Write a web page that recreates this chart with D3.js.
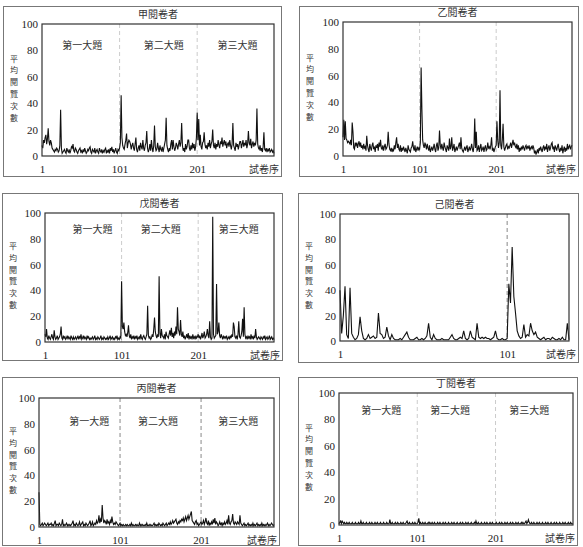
<!DOCTYPE html>
<html>
<head>
<meta charset="utf-8">
<script src="https://cdn.jsdelivr.net/npm/d3@7"></script>
<style>
body { margin: 0; background: #fff; }
svg { display: block; }
.tk { font-family: "Liberation Serif", "DejaVu Serif", serif; font-size: 11px; fill: #222; }
.zh { font-family: "Noto Sans CJK TC", "Noto Sans CJK SC", sans-serif; font-size: 10px; fill: #333; }
.yl { font-family: "Noto Sans CJK TC", "Noto Sans CJK SC", sans-serif; font-size: 8px; fill: #333; }
</style>
</head>
<body>
<svg id="chart" width="583" height="547"></svg>
<script>
var titles = ['甲閱卷者', '乙閱卷者', '戊閱卷者', '己閱卷者', '丙閱卷者', '丁閱卷者'];
var sections = ['第一大題', '第二大題', '第三大題'];
var yTicks = [0, 20, 40, 60, 80, 100];
var xTicks = [1, 101, 201];
var yLabel = '平均閱覽次數';
var xLabel = '試卷序';

var dataA = [
    8,6,12,10,14,16,9,13,21,11,8,12,10,6,5,4,3,5,4,6,
    5,3,4,8,35,6,2,3,4,5,3,2,6,4,3,5,2,4,7,6,
    9,4,3,6,5,3,2,4,5,6,3,4,2,5,3,6,4,2,3,5,
    4,6,7,3,2,5,4,3,6,2,4,5,3,2,6,4,3,5,2,4,
    3,5,6,2,4,3,5,2,6,4,7,3,5,2,4,6,3,2,5,4,
    6,10,46,14,8,6,5,9,12,17,6,10,12,11,9,5,8,10,6,4,
    9,14,5,3,6,8,4,10,7,5,12,6,4,8,10,19,6,3,5,9,
    4,12,6,3,8,23,7,4,5,10,6,3,8,5,4,7,3,6,9,12,
    29,8,5,3,6,4,9,12,5,12,7,4,6,10,8,5,9,12,7,10,
    25,8,4,6,3,9,5,7,12,12,6,4,8,5,10,6,9,4,7,14,
    33,12,28,8,16,7,5,10,11,18,9,6,8,5,10,7,12,6,9,11,
    20,8,6,10,5,9,7,12,8,6,11,9,14,7,10,12,8,11,6,9,
    10,7,12,8,5,9,25,8,6,4,10,7,9,5,8,11,11,6,9,12,
    7,10,8,12,6,9,19,10,8,13,6,9,11,7,10,8,12,36,9,6,
    5,8,4,6,3,7,18,5,4,6,3,5,4,6,3,4,5,3,4,2
];
var dataB = [
    14,27,12,26,13,12,10,11,10,9,12,8,25,18,6,5,10,8,10,6,
    9,11,7,10,6,8,5,9,6,7,4,15,8,5,3,9,6,4,8,10,
    5,7,3,8,6,9,4,10,7,12,6,5,8,4,7,9,5,6,8,18,
    9,5,4,6,3,5,4,8,5,10,14,6,9,5,4,8,3,6,4,7,
    5,3,6,4,2,8,5,4,3,6,7,11,6,4,8,3,5,7,4,6,
    5,10,66,35,12,8,6,10,8,5,9,6,4,8,3,5,7,4,6,9,
    5,3,8,10,4,6,19,8,5,9,6,4,10,7,5,3,8,6,4,13,
    5,7,14,4,6,9,3,5,7,4,6,8,10,5,14,6,4,3,5,7,
    4,6,8,3,5,7,4,6,9,5,3,8,28,6,18,4,5,8,3,6,
    9,4,5,7,3,6,8,4,5,10,6,7,5,8,14,4,6,3,5,7,
    8,26,12,6,10,49,8,5,12,24,7,4,6,8,9,5,7,6,8,10,
    6,9,12,8,10,7,6,9,5,8,3,6,4,7,5,8,6,4,7,8,
    5,7,6,8,4,6,7,5,8,6,2,4,1,3,5,2,6,4,7,5,
    3,6,8,4,7,5,9,3,6,8,4,6,9,10,5,7,3,8,6,4,
    7,9,5,3,6,4,8,2,5,7,3,6,4,9,5,7,8,5,7,8
];
var dataE = [
    6,4,10,3,2,5,3,2,4,6,3,2,9,4,2,3,5,2,3,4,
    6,12,3,2,5,3,4,2,3,5,2,4,3,2,5,3,2,4,2,3,
    4,2,3,5,2,4,3,6,2,3,5,2,4,3,2,5,3,4,2,3,
    2,3,4,2,3,5,2,3,2,4,3,2,3,5,2,3,2,4,3,2,
    3,2,4,2,3,5,2,3,4,2,3,2,4,3,5,2,3,2,4,3,
    47,12,10,15,8,5,6,4,7,13,5,3,6,2,4,3,5,2,4,3,
    5,2,3,4,2,6,3,2,4,5,3,2,4,6,28,5,3,4,2,3,
    6,4,10,19,8,5,3,6,4,51,7,3,10,5,4,3,6,2,8,5,
    4,3,6,9,5,11,4,7,3,8,5,12,6,27,10,8,5,17,6,4,
    8,3,5,2,4,6,3,7,2,5,3,4,2,6,3,4,2,5,3,4,
    6,3,5,2,4,7,3,5,8,3,4,6,10,5,3,16,4,2,3,97,
    6,3,4,5,45,6,8,15,5,3,6,4,2,5,3,4,3,5,2,3,
    4,2,5,3,6,4,15,12,4,3,5,2,6,16,4,3,5,8,18,4,
    27,6,3,4,2,5,3,4,2,6,3,4,2,5,3,10,4,2,3,4,
    3,2,4,3,2,4,3,5,2,3,4,2,3,5,2,3,4,2,3,2
];
var dataF = [
    40,6,20,43,5,2,42,6,3,1,2,5,19,8,2,1,2,5,2,3,
    4,2,3,22,6,5,2,3,11,4,1,5,2,1,1,1,2,1,3,5,
    7,3,1,1,1,2,3,1,1,2,1,2,4,14,3,1,5,2,1,1,
    1,2,1,1,1,1,3,5,2,1,1,2,3,2,8,2,1,2,8,3,
    2,1,14,3,2,3,2,3,2,2,1,2,3,8,2,1,1,2,1,1,
    2,45,30,74,35,22,8,4,2,3,13,3,5,4,14,8,5,7,3,2,
    1,2,3,1,2,2,1,3,2,1,1,2,1,3,1,1,14,1
];
var dataC = [
    27,2,1,2,3,1,2,3,2,1,2,3,1,2,2,3,1,2,1,3,
    5,1,2,2,1,3,2,1,2,6,1,2,1,2,3,1,2,1,2,1,
    2,3,5,1,2,1,3,2,1,2,4,1,2,3,4,1,2,1,3,2,
    1,2,3,5,1,2,4,1,2,3,2,5,3,4,9,3,6,4,17,7,
    3,5,4,2,6,3,4,2,5,3,8,4,2,3,2,4,3,2,1,2,
    3,1,2,1,2,1,1,2,1,2,1,1,2,1,3,1,2,1,1,2,
    1,2,1,1,3,1,2,1,2,1,1,2,1,3,1,1,2,1,2,1,
    1,2,3,1,2,1,2,1,3,2,1,2,1,3,2,1,2,3,1,2,
    3,2,4,2,3,5,3,4,5,6,3,2,4,3,5,4,6,5,7,4,
    6,8,5,7,9,6,8,10,12,5,4,3,2,4,5,2,3,1,2,3,
    4,2,3,5,2,4,7,3,2,5,1,3,2,4,2,6,3,7,2,4,
    3,1,2,4,2,3,1,3,2,4,2,3,5,2,9,3,2,4,5,10,
    3,2,4,3,2,4,3,2,9,3,2,1,2,3,1,2,1,2,3,1,
    2,1,2,1,3,1,2,1,2,3,1,2,1,2,1,3,1,2,1,2,
    1,2,3,1,2,1,2,3,2,1,2
];
var dataD = [
    1,2,3,1,3,2,1,2,1,1,2,1,1,2,1,1,1,2,1,1,
    1,2,1,1,1,2,1,1,3,1,1,2,1,1,1,2,1,1,1,2,
    1,1,2,1,1,1,2,1,1,2,1,1,1,2,1,1,1,2,1,1,
    1,2,1,1,1,4,1,1,2,1,1,1,2,1,1,2,1,1,1,2,
    1,1,2,1,1,1,2,3,1,1,2,1,1,1,2,1,1,2,1,1,
    1,2,5,1,2,1,1,2,1,1,2,1,1,1,2,1,2,1,1,2,
    1,1,2,1,1,1,2,1,1,2,1,1,1,2,1,1,2,1,1,1,
    2,1,1,1,2,1,1,2,1,1,1,2,1,1,1,2,1,1,2,1,
    1,1,2,1,1,2,1,1,1,2,1,1,1,2,1,3,1,1,2,1,
    1,1,2,1,1,1,2,1,1,2,1,1,1,2,1,1,2,1,1,1,
    1,2,1,1,1,2,1,1,2,1,1,1,2,1,1,2,1,1,1,2,
    1,1,2,1,1,1,2,1,1,2,1,1,1,2,1,2,1,1,2,3,
    1,2,4,2,1,1,2,1,1,2,1,1,1,2,1,1,2,1,1,1,
    2,1,1,1,2,1,1,2,1,1,1,2,1,1,1,2,1,1,2,1,
    1,1,2,1,1,1,2,1,1,2,1,1,1,2,1,1,2,1,1,1
];
var series = [dataA, dataB, dataE, dataF, dataC, dataD];

// layout of each panel: outer box, plot area, where section labels sit (in x units)
var panels = [
    {box: [3, 6, 281, 176], plot: [42, 24, 274, 156], secX: [53, 158, 253], secY: 45, splits: [101, 201], dash: '#ccc'},
    {box: [299, 6, 578, 176], plot: [343, 22, 572, 156], secX: null, secY: 0, splits: [101, 201], dash: '#ccc'},
    {box: [2, 193, 282, 360], plot: [45, 213, 274, 342], secX: [63, 152, 254], secY: 229, splits: [101, 201], dash: '#ccc'},
    {box: [298, 193, 578, 362], plot: [340, 214, 569, 341], secX: null, secY: 0, splits: [101], dash: '#888'},
    {box: [2, 377, 279, 545], plot: [39, 398, 274, 527], secX: [63, 148, 247], secY: 421, splits: [101, 201], dash: '#888'},
    {box: [298, 377, 577, 545], plot: [339, 393, 573, 525], secX: [55, 143, 244], secY: 410, splits: [101, 201], dash: '#ccc'}
];

var svg = d3.select('#chart');

panels.forEach(function (p, i) {
    var data = series[i];
    var g = svg.append('g');
    var x = d3.scaleLinear().domain([1, data.length]).range([p.plot[0], p.plot[2]]);
    var y = d3.scaleLinear().domain([0, 100]).range([p.plot[3], p.plot[1]]);

    g.append('rect')
        .attr('x', p.box[0] + 0.5).attr('y', p.box[1] + 0.5)
        .attr('width', p.box[2] - p.box[0]).attr('height', p.box[3] - p.box[1])
        .attr('fill', 'none').attr('stroke', '#777').attr('stroke-width', 1);

    g.append('text').attr('class', 'zh')
        .attr('x', (p.plot[0] + p.plot[2]) / 2).attr('y', p.plot[1] - 6)
        .attr('text-anchor', 'middle')
        .text(titles[i]);

    // dashed section splits
    g.selectAll('.split').data(p.splits).enter().append('line')
        .attr('x1', d => x(d)).attr('x2', d => x(d))
        .attr('y1', p.plot[1]).attr('y2', p.plot[3])
        .attr('stroke', p.dash).attr('stroke-width', 1)
        .attr('stroke-dasharray', '4,3');

    if (p.secX) {
        g.selectAll('.sec').data(sections).enter().append('text')
            .attr('class', 'zh')
            .attr('x', (d, k) => x(p.secX[k])).attr('y', p.secY + 4)
            .attr('text-anchor', 'middle')
            .text(d => d);
    }

    var line = d3.line().x((d, k) => x(k + 1)).y(d => y(d));
    g.append('path').datum(data)
        .attr('d', line)
        .attr('fill', 'none').attr('stroke', '#111').attr('stroke-width', 1.1)
        .attr('stroke-linejoin', 'miter');

    g.append('rect')
        .attr('x', p.plot[0]).attr('y', p.plot[1])
        .attr('width', p.plot[2] - p.plot[0]).attr('height', p.plot[3] - p.plot[1])
        .attr('fill', 'none').attr('stroke', '#333').attr('stroke-width', 1.2);

    var ya = g.append('g').attr('transform', 'translate(' + p.plot[0] + ',0)')
        .call(d3.axisLeft(y).tickValues(yTicks).tickSize(0).tickPadding(4));
    ya.select('.domain').remove();
    ya.selectAll('text').attr('class', 'tk').attr('font-family', null).attr('font-size', null);

    var xt = xTicks.filter(t => t <= data.length);
    var xa = g.append('g').attr('transform', 'translate(0,' + p.plot[3] + ')')
        .call(d3.axisBottom(x).tickValues(xt).tickSize(0).tickPadding(9));
    xa.select('.domain').remove();
    xa.selectAll('text').attr('class', 'tk').attr('font-family', null).attr('font-size', null);

    g.append('text').attr('class', 'zh')
        .attr('x', p.box[2] - 2).attr('y', p.plot[3] + 17)
        .attr('text-anchor', 'end')
        .text(xLabel);

    // vertical y label, one character per line
    var ymid = (p.plot[1] + p.plot[3]) / 2 - 2;
    var chars = yLabel.split('');
    g.selectAll('.ych').data(chars).enter().append('text')
        .attr('class', 'yl')
        .attr('text-anchor', 'middle')
        .attr('x', p.box[0] + 11)
        .attr('y', (d, k) => ymid + (k - (chars.length - 1) / 2) * 11.8 + 3)
        .text(d => d);
});
</script>
</body>
</html>
